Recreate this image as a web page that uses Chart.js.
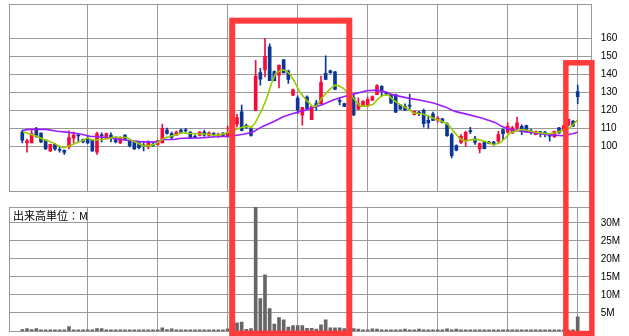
<!DOCTYPE html>
<html>
<head>
<meta charset="utf-8">
<script src="https://cdn.jsdelivr.net/npm/chart.js@4"></script>
<style>
  body { margin: 0; background: #fff; }
  #wrap { position: relative; width: 629px; height: 336px; }
  #price { position: absolute; left: 0; top: 0; }
  #vol { position: absolute; left: 0; top: 200px; }
</style>
</head>
<body>
<div id="wrap">
  <canvas id="price" width="629" height="200" style="width:629px;height:200px"></canvas>
  <canvas id="vol" width="629" height="136" style="width:629px;height:136px"></canvas>
</div>
<script>
// daily candles, index 0..119 (oldest -> newest)
const opens = [
  107.9, 101.9, 101.9, 110, 107.3, 103.4, 97.4, 101.1, 98.3, 97.7,
  99.6, 104.5, 106.2, 103.8, 103.8, 103.4, 96.8, 106.4, 104.7, 106.2,
  103.8, 101.9, 106.2, 103.2, 102.4, 101.9, 100.6, 99.6, 101.1, 101.1,
  101.9, 109, 107.1, 106.2, 109, 109, 107.9, 105.6, 106, 107.9,
  106, 107.3, 105.3, 107.4, 105.2, 106, 112.3, 119.1, 111.7, 109.9,
  120, 141, 142.5, 155.3, 141.5, 139.5, 148, 141.8, 128.4, 126.8,
  117.3, 127.4, 114.8, 124, 123.5, 140.5, 142, 141.4, 125.5, 123.7,
  122.5, 127, 120.7, 122.6, 122.6, 125.6, 128.7, 133.3, 129.5, 128.7,
  128.7, 123.1, 122.2, 122.8, 117.6, 118.7, 120, 114.4, 118.1, 114.4,
  115.2, 112.6, 106.5, 100.4, 102.2, 102.8, 108.5, 104.1, 98.5, 102.4,
  102.4, 102.4, 102.8, 109.3, 107.8, 107.4, 110.2, 111.1, 111.5, 108.5,
  106.5, 108, 107.6, 106.5, 105.2, 110.2, 109, 111.7, 114, 130.4
];
const highs = [
  109, 104, 109.4, 110.5, 107.5, 103.6, 101.3, 101.5, 99.6, 98,
  108.6, 108, 106.8, 104, 105.5, 103.6, 107.9, 107.5, 107.3, 107.5,
  105.3, 105.3, 106.4, 103.6, 102.6, 102.2, 101.9, 103, 101.9, 103.4,
  112.4, 110.1, 107.9, 108.4, 109.6, 110, 108.2, 106.4, 108.2, 109,
  108, 107.5, 107.3, 107.6, 111.2, 109.5, 117.8, 122.9, 112.3, 110.2,
  147.8, 143.3, 160, 157, 142, 145.2, 148.3, 142.4, 131.8, 128,
  121.6, 128, 122.4, 125.5, 139, 150.2, 142.4, 141.6, 127, 124,
  123, 128.5, 126.9, 125.4, 127.4, 128, 134.3, 133.7, 130, 129,
  129, 123.3, 123.6, 129, 119.6, 119.4, 120.7, 116.7, 119, 116.7,
  115.5, 113, 107.4, 100.8, 106.5, 108.5, 110.6, 105.6, 101.9, 102.6,
  102.8, 102.8, 108.3, 109.6, 113, 111.1, 116.3, 112, 111.8, 109.6,
  108.5, 108.3, 108.3, 107, 108.5, 110.5, 111.8, 115.2, 114.3, 134
];
const lows = [
  101.9, 96.8, 101.9, 105, 102, 98.3, 97, 97.7, 96.8, 95.5,
  98.5, 101.9, 102.4, 101.9, 101.5, 97.2, 95.5, 102.4, 104.5, 102.4,
  101.9, 101.5, 103.4, 99.6, 98.3, 98.5, 97.4, 98.5, 100, 100.6,
  101.9, 106.8, 103.8, 106, 107.3, 107.9, 104.5, 104.7, 105.8, 105.6,
  105.6, 105.3, 105, 105.8, 105.2, 105.5, 110.8, 108.6, 109.9, 105.6,
  120, 134, 138.6, 136.4, 136.3, 132.5, 140.8, 135, 128.2, 118.2,
  111.7, 120.5, 114.8, 120, 123.5, 137, 140.5, 131.5, 123, 122,
  118.5, 117, 120.4, 122.5, 121.9, 125.3, 128.7, 128, 128.2, 123.8,
  118.7, 120.5, 120, 120.7, 117.4, 117, 110.6, 110, 114.2, 113.3,
  113, 105.5, 93.5, 97.4, 101.5, 100, 107, 101, 96.3, 98.5,
  101.3, 100.5, 101.9, 103.7, 107.4, 107, 109.3, 106.5, 108, 106.7,
  106.3, 105.2, 105.2, 102.8, 105, 107.2, 108.8, 111.5, 111, 123.7
];
const closes = [
  103.4, 103, 107.1, 105.6, 102.4, 98.5, 101.1, 98.5, 97.8, 96.6,
  104.9, 106.2, 105.8, 102.4, 101.9, 97.4, 107.1, 105.8, 107.1, 104.7,
  102.4, 104.7, 103.8, 100.4, 98.5, 99.2, 100.2, 102.4, 100.4, 103,
  109.9, 107.1, 104.9, 107.9, 107.5, 108.6, 104.7, 104.9, 107.9, 106.2,
  107.5, 106.8, 106.8, 106, 107.6, 109, 116, 108.8, 110.8, 106,
  139, 137.3, 150, 136.4, 136.5, 145, 140.8, 137.2, 131.4, 120.2,
  121.5, 121, 122.2, 122, 135.5, 137.2, 140.9, 131.6, 125, 122.2,
  119, 117.5, 123.7, 125, 125.9, 127.6, 133.7, 131.1, 129.2, 124,
  118.9, 120.7, 120.1, 122.3, 119.4, 118.4, 112.6, 113, 114.4, 115.7,
  113.3, 105.9, 94.8, 97.8, 105.5, 107.8, 108.2, 102.2, 101.5, 98.7,
  101.5, 100.9, 106.5, 107, 111.1, 110.2, 113, 108.3, 108.3, 108.2,
  108.3, 107, 107.3, 105.6, 108.3, 107.4, 111.5, 115, 111.2, 127.6
];
// volume in millions of shares
const volumes = [
  0.4, 0.65, 0.4, 0.65, 0.3, 0.3, 0.3, 0.3, 0.3, 0.3,
  1.2, 0.3, 0.3, 0.3, 0.3, 0.3, 0.65, 0.65, 0.3, 0.3,
  0.3, 0.3, 0.3, 0.3, 0.3, 0.3, 0.3, 0.3, 0.3, 0.3,
  0.9, 0.4, 0.6, 0.3, 0.3, 0.3, 0.3, 0.3, 0.3, 0.3,
  0.3, 0.3, 0.3, 0.3, 0.6, 0.8, 2.3, 2.5, 0.45, 0.65,
  34.3, 9, 15.6, 6.2, 1.9, 3.7, 3.1, 1.1, 1.5, 1.5,
  1.5, 0.75, 0.75, 0.55, 1.7, 3.1, 0.9, 0.9, 0.9, 0.65,
  0.8, 0.65, 0.55, 0.3, 0.3, 0.6, 0.5, 0.3, 0.3, 0.3,
  0.3, 0.3, 0.55, 0.3, 0.3, 0.55, 0.3, 0.3, 0.3, 0.3,
  0.3, 0.6, 0.3, 0.5, 0.3, 0.3, 0.3, 0.3, 0.3, 0.3,
  0.3, 0.3, 0.3, 0.3, 0.3, 0.3, 0.3, 0.3, 0.3, 0.3,
  0.3, 0.3, 0.3, 0.3, 0.3, 0.3, 0.3, 0.35, 0.3, 3.9
];

// moving averages (x = candle index)
const maFastX = [0.2, 1.3, 2.4, 3.4, 4.5, 5.6, 6.6, 7.7, 8.8, 9.9, 10.9, 12, 13.1, 13.9, 15.2, 16.6, 18.1, 19.9,
  20.9, 22.4, 23.4, 24.9, 25.9, 27.4, 28.4, 29.5, 30.6, 31.7, 33.1, 34.2, 35.2, 36.6, 38.1, 39.5, 40.9,
  41.7, 43.4, 47.4, 48.4, 49.1, 49.9, 51.3, 52.4, 53.4, 54.3, 55.6, 56.5, 57.4, 58.4, 59.5, 60.9, 62.3,
  63, 64.1, 65.6, 67, 67.7, 68.8, 69.5, 71, 72.4, 73.8, 75.2, 76.3, 77.4, 78.4, 79.5, 81.3, 82.7, 83.8,
  85.6, 87, 88.4, 89.9, 91.3, 92.4, 93.8, 94.9, 96.3, 97.7, 99.1, 101, 102.4, 103.5, 104.5, 105.6, 107,
  108.4, 109.9, 111.3, 112.7, 114.1, 115.2, 117.3, 118, 119];
const maFastY = [107.9, 107.1, 106.2, 105.3, 103.8, 103, 101.9, 100.4, 99.2, 100, 101.1, 102.4, 103.4, 104.7, 103.4, 103.8, 104.1, 105.3,
  104.9, 104.9, 103.4, 101.5, 100.4, 100.4, 101.1, 103, 104.7, 105.6, 106.6, 107.7, 107.1, 107.1, 106.8, 106.8, 106.2,
  106.1, 107.1, 110.8, 111.2, 110.4, 113, 120, 127, 135, 140.5, 142.5, 142, 140, 135.5, 130, 125.5, 122,
  122.3, 126.6, 130.9, 134, 133.8, 132.2, 130.3, 126.6, 122.3, 122.3, 123.4, 126.6, 128.4, 128.6, 125.6, 122.6, 120.7, 118.5,
  118.1, 117, 115.2, 113.9, 112, 108.3, 104.2, 102.9, 103.7, 103.7, 102.8, 100.9, 101.9, 104.6, 107.4, 108.3, 109.3,
  108.9, 107.8, 107.4, 107, 107.4, 108.3, 110.2, 112, 114.8];
const maSlowX = [0, 1.3, 5.2, 7.4, 9.5, 12.4, 14.5, 18, 22.4, 25.2, 28.8, 30.2, 32.4, 34.1, 38, 41.6, 44.5, 47.4,
  49.4, 51.6, 53.8, 55.9, 58, 60.2, 62.4, 64.5, 66.6, 68.8, 70.9, 73.8, 75.9, 78, 79.2, 82.4, 85.3, 88.1,
  90.6, 92.7, 95.6, 98.4, 101.3, 102.7, 104.1, 107, 109.9, 112.7, 115.7, 117.9, 119];
const maSlowY = [108.8, 109.4, 109.4, 108.4, 107.9, 106.8, 105.6, 104.9, 103.4, 102.6, 102.3, 103.8, 103.8, 104.5, 104.7, 105.3, 105.6, 106.7,
  108, 111.2, 113.6, 116.4, 118.2, 119.7, 121.6, 123.4, 125.7, 127.5, 129, 130.9, 131.2, 130.1, 128.7, 126.9, 125.6, 124.1,
  121.9, 119.4, 117.6, 115.7, 113.3, 111.1, 109.6, 108.3, 107.4, 106.5, 105.9, 107, 107.8];

const priceTicks = [100, 110, 120, 130, 140, 150, 160];
const volTicks = [5, 10, 15, 20, 25, 30];
const gridIdx = [14, 29, 44, 59, 74, 89, 104, 119];
const volLabel = '出来高単位：M';

// highlight boxes (in candle index / price units)
const boxes = [
  { x0: 44.97, x1: 70.06, top: 169.8, w: 6 },
  { x0: 116.46, x1: 122.03, top: 146.4, w: 5.5 }
];

const UP = '#f50a3c', DOWN = '#0a3796', GRID = '#9a9a9a', BOX = '#ff3b3b';
const tickFont = { family: '"Liberation Sans", Arial, sans-serif', size: 10 };

function xAxis() {
  return {
    type: 'linear', min: -2.786, max: 122.0, offset: false,
    afterBuildTicks: s => { s.ticks = gridIdx.map(v => ({ value: v })); },
    ticks: { display: false },
    grid: { color: GRID, drawTicks: false, offset: false },
    border: { display: false }
  };
}

// fixed width for the right axis, and no extra label padding above/below
function fitRight(s) {
  s.width = 37.3;
  s.paddingTop = 0;
  s.paddingBottom = 0;
}

const frame = {
  id: 'frame',
  beforeDatasetsDraw(chart) {
    const a = chart.chartArea, ctx = chart.ctx;
    ctx.save();
    ctx.strokeStyle = GRID;
    ctx.lineWidth = 1;
    ctx.strokeRect(Math.round(a.left) + 0.5, Math.round(a.top) + 0.5,
      Math.round(a.right - a.left), Math.round(a.bottom - a.top));
    if (chart.canvas.id === 'vol') {
      ctx.fillStyle = '#000';
      ctx.font = '11px "Noto Sans CJK JP", sans-serif';
      ctx.textBaseline = 'middle';
      ctx.fillText(volLabel, 13, 15.8);
    }
    ctx.restore();
  },
  afterDraw(chart) {
    const ctx = chart.ctx, xs = chart.scales.x, ys = chart.scales.y;
    ctx.save();
    ctx.strokeStyle = BOX;
    ctx.lineJoin = 'miter';
    boxes.forEach(b => {
      const l = xs.getPixelForValue(b.x0), r = xs.getPixelForValue(b.x1);
      let t, btm;
      if (chart.canvas.id === 'price') {
        t = ys.getPixelForValue(b.top);
        btm = chart.height + 20;
      } else {
        t = -20;
        btm = ys.getPixelForValue(-0.7);
      }
      ctx.lineWidth = b.w;
      ctx.strokeRect(l, t, r - l, btm - t);
    });
    ctx.restore();
  }
};

const colors = opens.map((o, i) => closes[i] >= o ? UP : DOWN);

new Chart(document.getElementById('price'), {
  type: 'line',
  data: {
    datasets: [
      {
        type: 'line', data: maFastX.map((x, k) => ({ x: x, y: maFastY[k] })),
        borderColor: '#99cc00', borderWidth: 1.6, pointRadius: 0, tension: 0, order: 1
      },
      {
        type: 'line', data: maSlowX.map((x, k) => ({ x: x, y: maSlowY[k] })),
        borderColor: '#9b1cff', borderWidth: 1.6, pointRadius: 0, tension: 0, order: 2
      },
      {
        type: 'bar', data: opens.map((o, i) => ({ x: i, y: [o, closes[i]] })),
        backgroundColor: colors, borderWidth: 0, barThickness: 3, minBarLength: 1,
        grouped: false, order: 3
      },
      {
        type: 'bar', data: opens.map((o, i) => ({ x: i, y: [lows[i], highs[i]] })),
        backgroundColor: colors, borderWidth: 0, barThickness: 1,
        grouped: false, order: 4
      }
    ]
  },
  options: {
    responsive: false, animation: false, events: [],
    layout: { padding: { left: 9.3, top: 4.3, right: 0, bottom: 8.7 } },
    plugins: { legend: { display: false }, tooltip: { enabled: false } },
    scales: {
      x: xAxis(),
      y: {
        position: 'right', min: 75, max: 178.9,
        afterBuildTicks: s => { s.ticks = priceTicks.map(v => ({ value: v })); },
        afterFit: fitRight,
        ticks: { color: '#000', font: tickFont, padding: 9 },
        grid: { color: GRID, drawTicks: false },
        border: { display: false }
      }
    }
  },
  plugins: [frame]
});

new Chart(document.getElementById('vol'), {
  type: 'bar',
  data: {
    datasets: [{
      data: volumes.map((v, i) => ({ x: i, y: v })),
      backgroundColor: '#666666', borderWidth: 0, barThickness: 3, grouped: false
    }]
  },
  options: {
    responsive: false, animation: false, events: [],
    layout: { padding: { left: 9.3, top: 6.7, right: 0, bottom: 5 } },
    plugins: { legend: { display: false }, tooltip: { enabled: false } },
    scales: {
      x: xAxis(),
      y: {
        position: 'right', min: 0, max: 34.5,
        afterBuildTicks: s => { s.ticks = volTicks.map(v => ({ value: v })); },
        afterFit: fitRight,
        ticks: { color: '#000', font: tickFont, padding: 9, callback: v => v + 'M' },
        grid: { color: GRID, drawTicks: false },
        border: { display: false }
      }
    }
  },
  plugins: [frame]
});
</script>
</body>
</html>
